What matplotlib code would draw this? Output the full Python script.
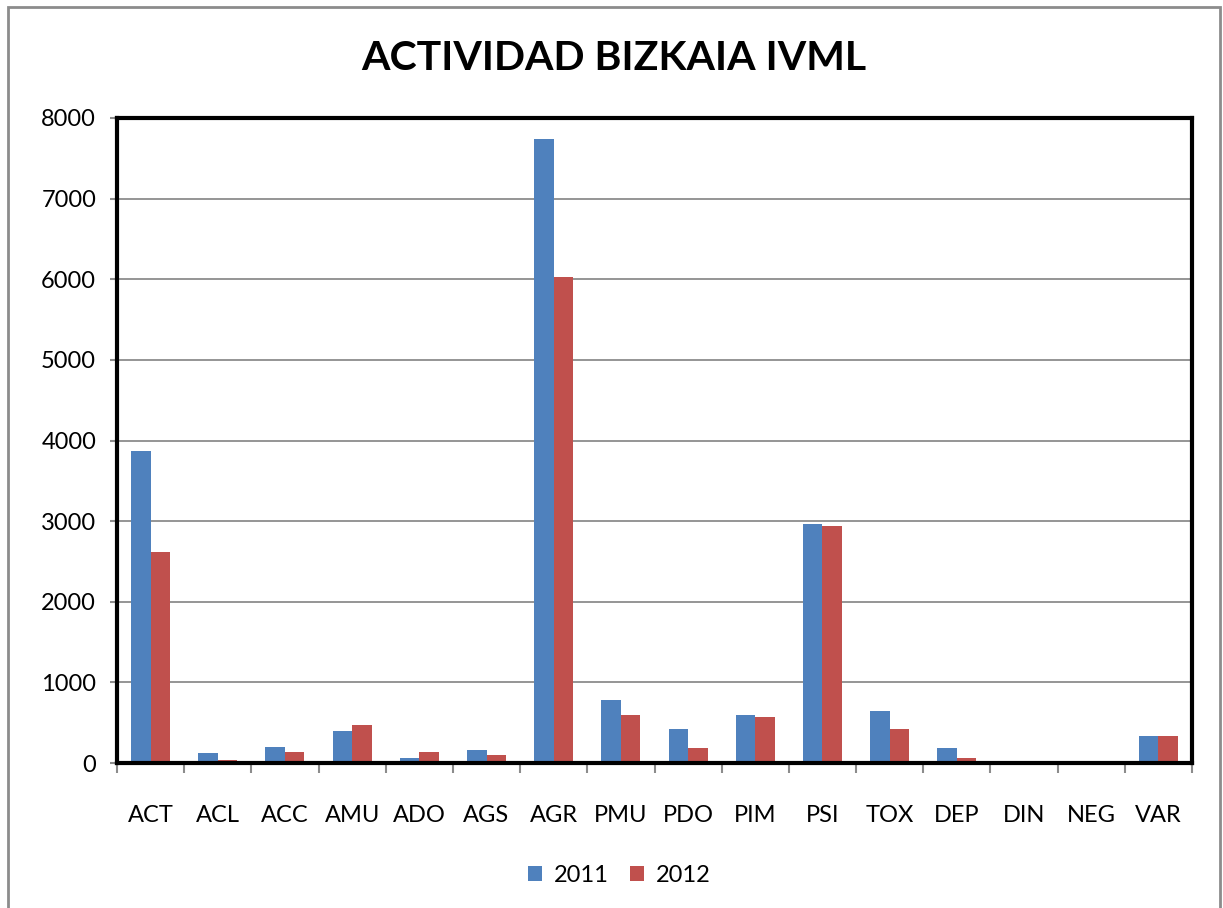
import matplotlib.pyplot as plt
import numpy as np
from matplotlib.patches import Rectangle

categorias = ['ACT', 'ACL', 'ACC', 'AMU', 'ADO', 'AGS', 'AGR', 'PMU',
              'PDO', 'PIM', 'PSI', 'TOX', 'DEP', 'DIN', 'NEG', 'VAR']
v2011 = [3870, 120, 200, 400, 60, 160, 7740, 780,
         420, 600, 2960, 640, 180, 0, 20, 340]
v2012 = [2620, 40, 140, 470, 140, 100, 6030, 600,
         180, 570, 2940, 420, 60, 0, 20, 340]
yticks = [0, 1000, 2000, 3000, 4000, 5000, 6000, 7000, 8000]

plt.rcParams['font.family'] = ['Lato', 'DejaVu Sans']

fig = plt.figure(figsize=(12.23, 9.08), dpi=100)
ax = fig.add_axes([117/1223, 1 - 763/908, (1192-117)/1223, (763-118)/908])

# outer chart border (bottom is cut off in the original)
fig.patches.append(Rectangle((8/1223, -0.05), (1220-8)/1223, 1.05 - 7/908,
                             transform=fig.transFigure, fill=False,
                             edgecolor='#8c8c8c', linewidth=2))

x = np.arange(len(categorias))
w = 0.29
ax.bar(x - w/2, v2011, w, color='#4F81BD', label='2011', zorder=3)
ax.bar(x + w/2, v2012, w, color='#C0504D', label='2012', zorder=3)

ax.set_xlim(-0.5, len(categorias) - 0.5)
ax.set_ylim(0, 8000)
ax.set_yticks(yticks)
ax.set_yticklabels([str(t) for t in yticks])
ax.yaxis.grid(True, color='#8c8c8c', linewidth=1.3, zorder=0)

ax.set_xticks(x)
ax.set_xticklabels(categorias)
ax.set_xticks(np.arange(len(categorias) + 1) - 0.5, minor=True)
ax.tick_params(axis='x', which='major', length=0, pad=30, labelsize=17)
ax.tick_params(axis='x', which='minor', length=7, width=1.5, color='#8c8c8c')
ax.tick_params(axis='y', length=5, width=1.5, color='#8c8c8c', pad=10, labelsize=17)

for s in ax.spines.values():
    s.set_color('black')
    s.set_linewidth(3)
    s.set_zorder(4)

fig.text(614/1223, 1 - 58/908, 'ACTIVIDAD BIZKAIA IVML', ha='center', va='center',
         fontsize=29.5, fontweight='bold')

fig.legend(loc='center', bbox_to_anchor=(619/1223, 1 - 875/908), ncol=2,
           frameon=False, fontsize=17, handlelength=0.6, handleheight=0.6,
           handletextpad=0.5, columnspacing=0.9)

fig.savefig('out.png', dpi=100)
